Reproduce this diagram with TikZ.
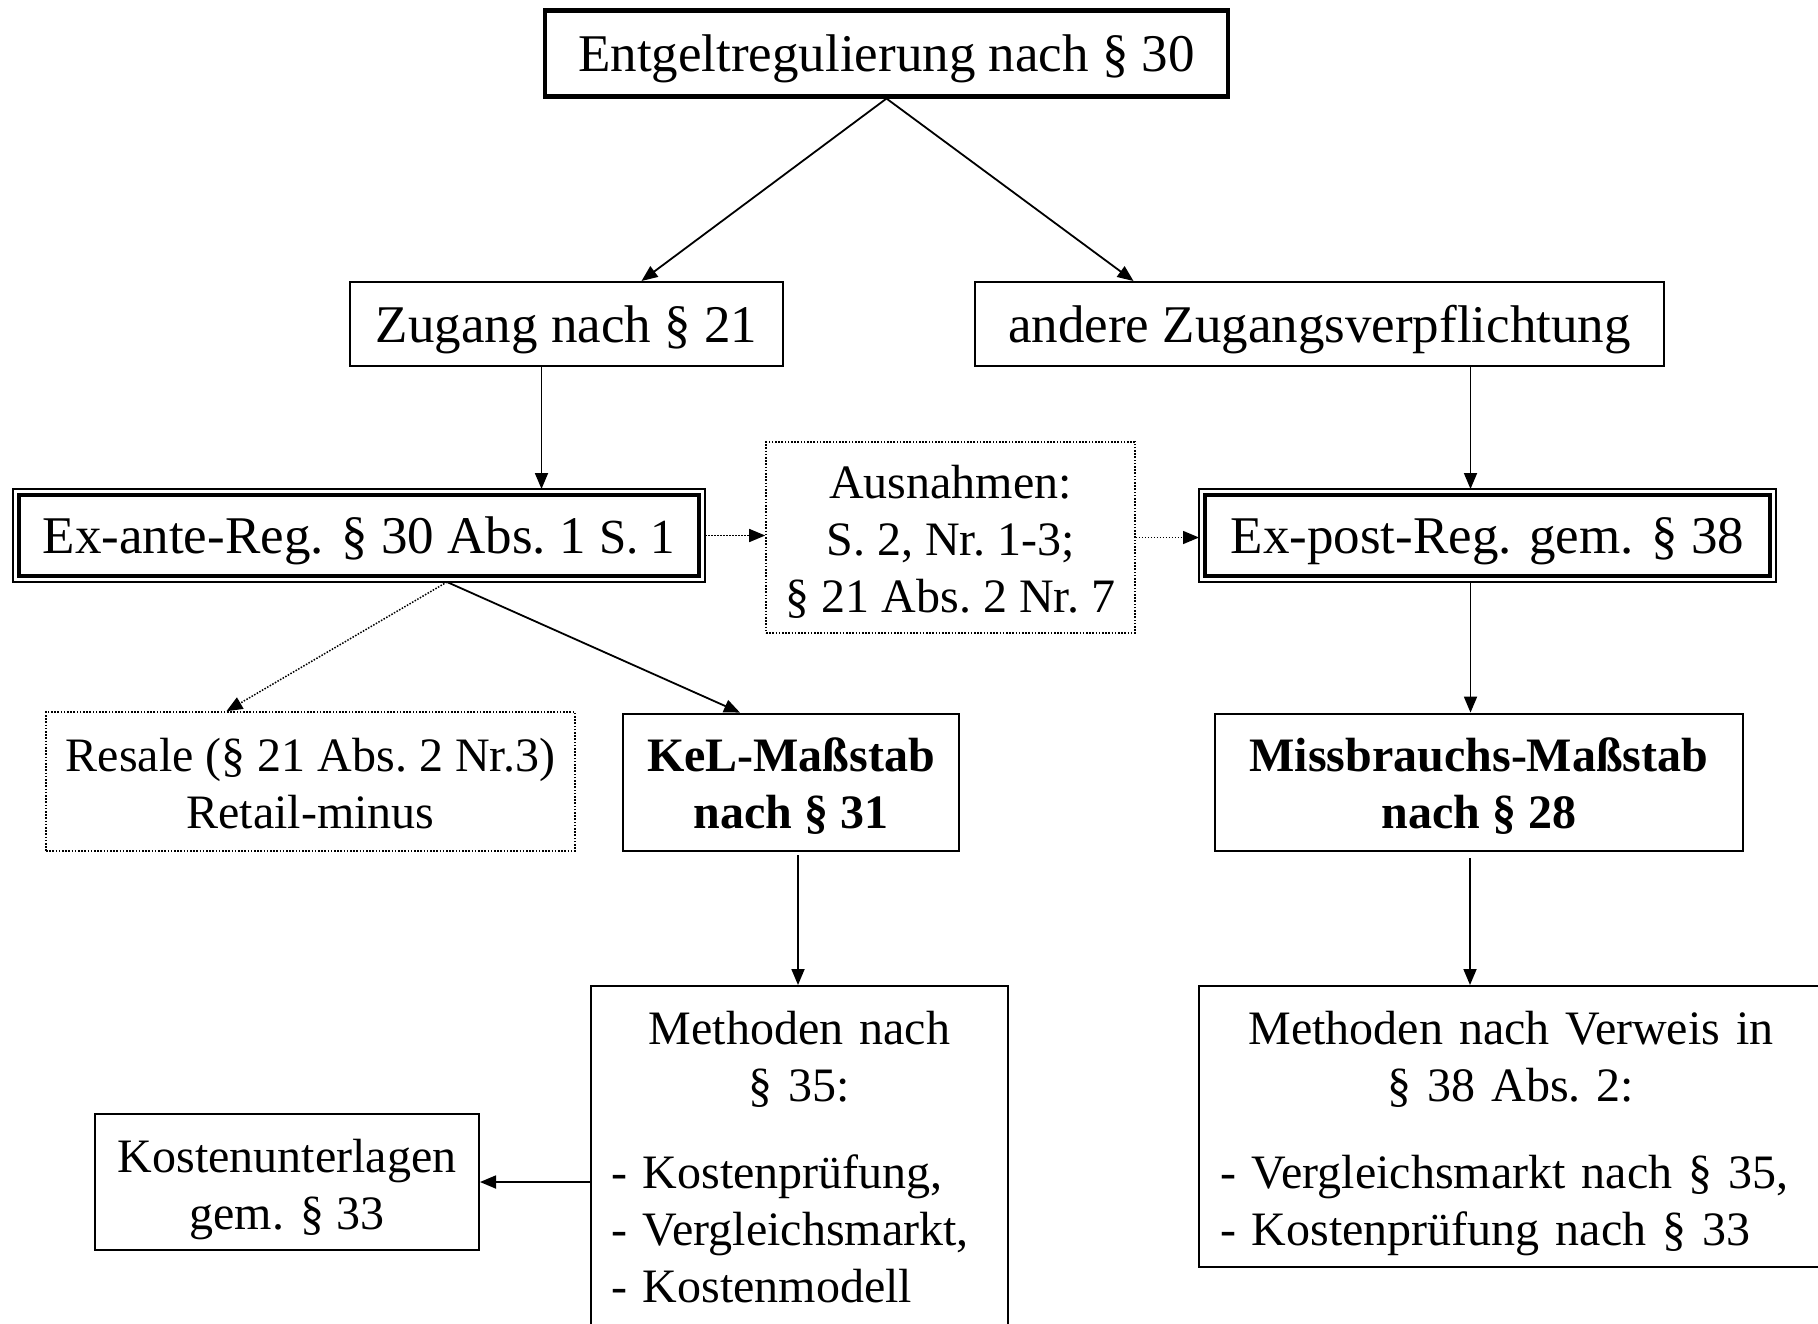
\documentclass[tikz,border=0pt]{standalone}
\usepackage{fontspec}
\setmainfont{Liberation Serif}
\usetikzlibrary{arrows.meta,calc}
% strut that lowers the first line of a multi-line label
\newcommand{\firstline}[1]{\rule{0pt}{#1}}
\begin{document}
\begin{tikzpicture}[x=1pt,y=-1pt,
  big/.style={font=\fontsize{53}{60}\selectfont, text depth=-2.5pt},
  small/.style={font=\fontsize{48}{57}\selectfont},
  box/.style={draw, line width=2pt, inner sep=0pt, align=center},
  heavybox/.style={box, line width=4.5pt},
  boldbox/.style={box, line width=2.8pt, font=\fontsize{48}{57}\selectfont\bfseries},
  dotbox/.style={draw, line width=1.6pt, dash pattern=on 1.6pt off 1.6pt, inner sep=0pt, align=center},
  dbox/.style={draw, line width=3.6pt, inner sep=0pt, align=center, outer sep=6pt},
  frame/.style={draw, line width=1.6pt},
  arr/.style={draw, line width=1.8pt, -{Triangle[length=16pt,width=13pt]}},
  dotarr/.style={arr, line width=1.5pt, dash pattern=on 1.5pt off 1.5pt},
  methbox/.style={box, small, anchor=north, align=left, inner ysep=25pt}
]
\useasboundingbox (0,0) rectangle (1818,1323);

% top level
\node[heavybox, big, minimum width=683pt, minimum height=86pt] (top) at (886.5,53.3) {Entgeltregulierung nach §~30};

% kinds of access
\node[box, big, minimum width=433pt, minimum height=84pt] (zug) at (566.5,324) {Zugang nach §~21};
\node[box, big, minimum width=689pt, minimum height=84pt] (oth) at (1319.5,324) {andere Zugangsverpflichtung};

% ex-ante / ex-post regulation
\node[dbox, big, minimum width=680pt, minimum height=81pt] (exante) at (359,535.5) {Ex-ante-Reg. §~30 Abs.~1 {\fontsize{49}{57}\selectfont S.~1}};
\draw[frame] (exante.north west) rectangle (exante.south east);
\node[dotbox, small, minimum width=369pt, minimum height=191pt] (ausn) at (950.5,537.5) {\firstline{41pt}Ausnahmen:\\ S.~2, Nr.~1-3;\\ §~21 Abs.~2 Nr.~7};
\node[dbox, big, minimum width=565pt, minimum height=81pt] (expost) at (1487.5,535.5) {Ex-post-Reg. gem. §~38};
\draw[frame] (expost.north west) rectangle (expost.south east);

% standards
\node[dotbox, small, minimum width=529pt, minimum height=139pt] (resale) at (310.5,781.5) {\firstline{38pt}Resale (§~21 Abs.~2 Nr.3)\\ Retail-minus};
\node[boldbox, minimum width=336pt, minimum height=137pt] (kel) at (791,782.5) {\firstline{40pt}KeL-Maßstab\\ nach §~31};
\node[boldbox, minimum width=528pt, minimum height=137pt] (miss) at (1479,782.5) {\firstline{40pt}Missbrauchs-Maßstab\\ nach §~28};

% methods
\node[methbox, text width=377pt, inner xsep=20pt] (meth1) at (799.5,985)
  {{\centering Methoden nach\\ §~35:\par}\vspace{30pt}\raggedright - Kostenprüfung,\\ - Vergleichsmarkt,\\ - Kostenmodell\\[20pt]};
\node[methbox, text width=582pt, inner xsep=21pt, text depth=197.4pt] (meth2) at (1511,985)
  {{\centering Methoden nach Verweis in\\ §~38 Abs.~2:\par}\vspace{30pt}\raggedright - Vergleichsmarkt nach §~35,\\ - Kostenprüfung nach §~33};
\node[box, small, minimum width=384pt, minimum height=136pt] (kosten) at (287,1182) {\firstline{49pt}Kostenunterlagen\\ gem. §~33};

% connectors
\draw[arr] (top.south) -- ([xshift=75pt]zug.north);
\draw[arr] (top.south) -- ([xshift=-186pt]oth.north);
\coordinate (z1) at ([xshift=-25pt]zug.south);
\draw[arr] (z1) -- (z1 |- exante.north);
\coordinate (a1) at ([xshift=151pt]oth.south);
\draw[arr] (a1) -- (a1 |- expost.north);
\draw[dotarr] (exante.east) -- (exante.east -| ausn.west);
\draw[dotarr] (ausn.east) -- (ausn.east -| expost.west);
\coordinate (e1) at ([xshift=88pt]exante.south);
\draw[dotarr] (e1) -- ([xshift=-84pt]resale.north);
\draw[arr] (e1) -- ([xshift=-51pt]kel.north);
\coordinate (p1) at ([xshift=-17pt]expost.south);
\draw[arr] (p1) -- (p1 |- miss.north);
\coordinate (k1) at ([xshift=7pt,yshift=-3pt]kel.south);
\draw[arr] (k1) -- (k1 |- meth1.north);
\coordinate (m1) at ([xshift=-9pt,yshift=-6pt]miss.south);
\draw[arr] (m1) -- (m1 |- meth2.north);
\draw[arr] (kosten.east -| meth1.west) -- (kosten.east);
\end{tikzpicture}
\end{document}
